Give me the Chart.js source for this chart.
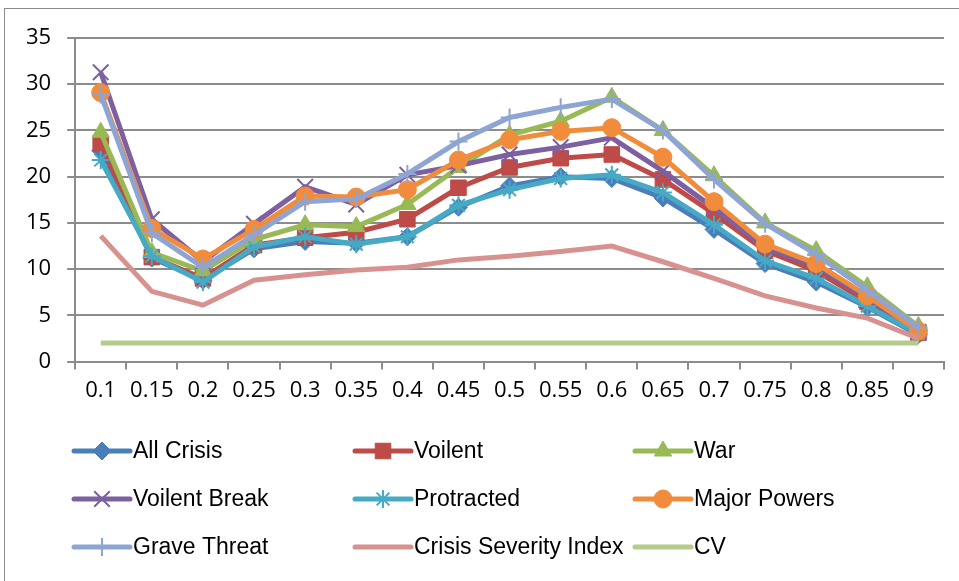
<!DOCTYPE html>
<html lang="en">
<head>
  <meta charset="UTF-8" />
  <title>Crisis series</title>
  <script src="https://cdn.jsdelivr.net/npm/chart.js"></script>
  <style>
    body { margin: 0; background: #fff; }
    #wrap { position: relative; width: 959px; height: 581px; overflow: hidden; }
    #frame {
      position: absolute; left: 4px; top: 8px; width: 1000px; height: 700px;
      border-left: 1px solid #8a8a8a; border-top: 1px solid #8a8a8a; pointer-events: none;
    }
    canvas { position: absolute; left: 0; top: 0; }
  </style>
</head>
<body>
<div id="wrap">
  <canvas id="chart" width="959" height="581"></canvas>
  <div id="frame"></div>
</div>
<script>
  const categories = ["0.1", "0.15", "0.2", "0.25", "0.3", "0.35", "0.4", "0.45", "0.5",
                      "0.55", "0.6", "0.65", "0.7", "0.75", "0.8", "0.85", "0.9"];
  const allCrisis    = [22.8, 11.2, 8.8, 12.2, 13.0, 12.8, 13.5, 16.7, 19.0, 20.0, 19.8, 17.7, 14.3, 10.6, 8.6, 5.9, 2.9];
  const voilent      = [23.6, 11.3, 9.0, 12.6, 13.4, 14.0, 15.4, 18.8, 21.0, 22.0, 22.4, 19.7, 16.0, 12.0, 9.8, 6.5, 3.1];
  const war          = [24.8, 11.8, 9.8, 13.2, 14.8, 14.6, 17.0, 21.0, 24.5, 26.0, 28.6, 25.0, 20.1, 15.0, 12.0, 8.1, 3.8];
  const voilentBreak = [31.3, 15.4, 10.8, 14.9, 18.9, 17.0, 20.2, 21.2, 22.4, 23.2, 24.2, 20.6, 16.6, 12.3, 10.3, 6.8, 3.2];
  const protracted   = [21.8, 11.4, 8.6, 12.4, 13.5, 12.7, 13.5, 16.9, 18.6, 19.8, 20.2, 18.3, 14.8, 10.9, 9.0, 6.0, 3.0];
  const majorPowers  = [29.1, 14.4, 11.1, 14.3, 17.9, 17.8, 18.6, 21.8, 24.0, 24.9, 25.3, 22.1, 17.3, 12.7, 10.6, 7.1, 3.3];
  const graveThreat  = [28.9, 13.9, 10.2, 13.7, 17.3, 17.6, 20.3, 23.8, 26.4, 27.5, 28.4, 25.0, 19.7, 14.9, 11.6, 7.7, 3.7];
  const severity     = [13.6, 7.6, 6.1, 8.8, 9.4, 9.9, 10.2, 11.0, 11.4, 11.9, 12.5, 10.8, 9.0, 7.1, 5.8, 4.7, 2.5];
  const cv           = [2, 2, 2, 2, 2, 2, 2, 2, 2, 2, 2, 2, 2, 2, 2, 2, 2];
  const yTicks = [0, 5, 10, 15, 20, 25, 30, 35];

  const axisGray = "#8c8c8c";

  function series(label, data, color, style, radius, filled) {
    return {
      label, data,
      borderColor: color, backgroundColor: color, borderWidth: 5,
      pointStyle: style || false, pointRadius: style ? radius : 0,
      pointBackgroundColor: color, pointBorderColor: color,
      pointBorderWidth: filled ? 1 : 2, tension: 0
    };
  }

  const datasets = [
    series("All Crisis", allCrisis, "#4A7EBB", "rectRot", 9, true),
    series("Voilent", voilent, "#BE4B48", "rect", 11, true),
    series("War", war, "#98B954", "triangle", 10, true),
    series("Voilent Break", voilentBreak, "#7D60A0", "crossRot", 11, false),
    series("Protracted", protracted, "#46AAC5", "star", 9, false),
    series("Major Powers", majorPowers, "#F08C3C", "circle", 9, true),
    series("Grave Threat", graveThreat, "#8EA5D3", "cross", 9, false),
    series("Crisis Severity Index", severity, "#D79290", false, 0, true),
    series("CV", cv, "#B3CC8C", false, 0, true)
  ];
  // later series sit on top, as in the original
  datasets.forEach((d, i) => d.order = datasets.length - i);

  const legendCols = [74, 355, 635];
  const legendRows = [451, 499, 547];

  const gridLegend = {
    id: "gridLegend",
    afterDraw(chart) {
      const ctx = chart.ctx;
      ctx.save();
      chart.data.datasets.forEach((ds, i) => {
        const x0 = legendCols[i % 3], y = legendRows[Math.floor(i / 3)];
        ctx.strokeStyle = ds.borderColor;
        ctx.lineWidth = 5;
        ctx.lineCap = "round";
        ctx.beginPath();
        ctx.moveTo(x0, y);
        ctx.lineTo(x0 + 56, y);
        ctx.stroke();
        if (ds.pointStyle) {
          ctx.fillStyle = ds.pointBackgroundColor;
          ctx.strokeStyle = ds.pointBorderColor;
          ctx.lineWidth = ds.pointBorderWidth;
          ctx.lineCap = "butt";
          Chart.helpers.drawPoint(ctx, {
            pointStyle: ds.pointStyle, radius: ds.pointRadius, rotation: 0,
            borderWidth: ds.pointBorderWidth
          }, x0 + 28, y);
        }
        ctx.fillStyle = "#000";
        ctx.font = "23px 'Liberation Sans'";
        ctx.textBaseline = "middle";
        ctx.fillText(ds.label, x0 + 59, y + 1);
      });
      ctx.restore();
    }
  };

  new Chart(document.getElementById("chart"), {
    type: "line",
    data: { labels: categories, datasets },
    plugins: [gridLegend],
    options: {
      responsive: false,
      animation: false,
      devicePixelRatio: 1,
      layout: { padding: { left: 10, top: 38, right: 15, bottom: 169 } },
      plugins: { legend: { display: false }, tooltip: { enabled: false } },
      scales: {
        x: {
          offset: true,
          grid: { offset: true, drawOnChartArea: false, drawTicks: true, tickLength: 8, color: axisGray, lineWidth: 2 },
          border: { color: axisGray, width: 2 },
          ticks: { color: "#000", font: { family: "'Open Sans'", size: 22 }, padding: 8, maxRotation: 0, autoSkip: false }
        },
        y: {
          min: 0, max: 35,
          afterBuildTicks: axis => { axis.ticks = yTicks.map(v => ({ value: v })); },
          grid: { color: axisGray, lineWidth: 2, tickLength: 8 },
          border: { color: axisGray, width: 2 },
          ticks: { color: "#000", font: { family: "'Open Sans'", size: 22 }, padding: 16 }
        }
      }
    }
  });
</script>
</body>
</html>
